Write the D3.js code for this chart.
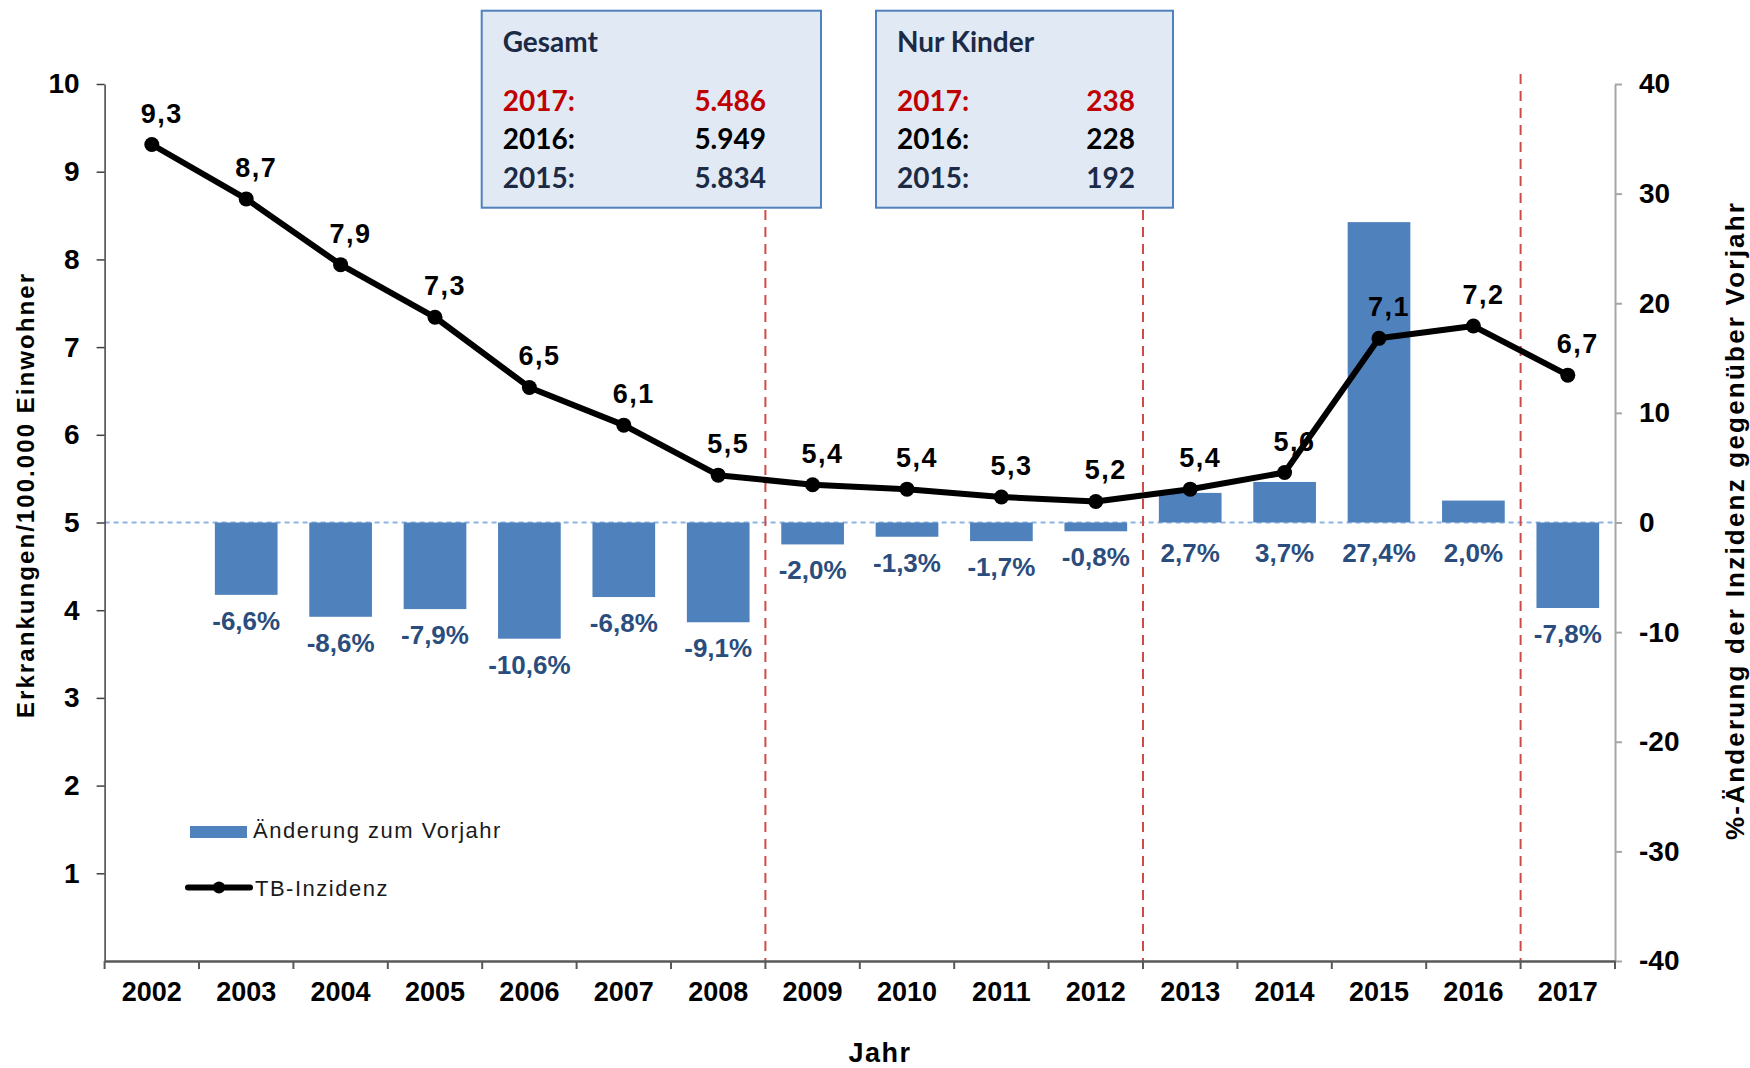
<!DOCTYPE html>
<html>
<head>
<meta charset="utf-8">
<script src="https://cdn.jsdelivr.net/npm/d3@7"></script>
<style>
  html, body { margin: 0; padding: 0; background: #ffffff; }
  svg { display: block; }
</style>
</head>
<body>
<svg id="chart" width="1750" height="1068"></svg>
<script>
// ---------- data ----------
const years = ["2002","2003","2004","2005","2006","2007","2008","2009","2010","2011","2012","2013","2014","2015","2016","2017"];
const incidence = [9.31, 8.69, 7.94, 7.34, 6.54, 6.11, 5.54, 5.43, 5.38, 5.29, 5.24, 5.38, 5.57, 7.10, 7.24, 6.68];
const changePct = [null, -6.6, -8.6, -7.9, -10.6, -6.8, -9.1, -2.0, -1.3, -1.7, -0.8, 2.7, 3.7, 27.4, 2.0, -7.8];
const leftTicks = [1,2,3,4,5,6,7,8,9,10];
const rightTicks = [-40,-30,-20,-10,0,10,20,30,40];
const dividerYears = ["2009","2013","2017"];
const boxTitles = ["Gesamt","Nur Kinder"];
const boxYears = ["2017:","2016:","2015:"];
const gesamtValues = ["5.486","5.949","5.834"];
const kinderValues = ["238","228","192"];
const legendLabels = ["Änderung zum Vorjahr","TB-Inzidenz"];
const leftTitle = "Erkrankungen/100.000 Einwohner";
const rightTitle = "%-Änderung der Inzidenz gegenüber Vorjahr";
const xTitle = "Jahr";

// ---------- layout ----------
const svg = d3.select("#chart");
const plotL = 104.6, plotR = 1615, plotT = 84, plotB = 961;
const FONT = "'Liberation Sans', Arial, sans-serif";
const BOXFONT = "Lato, 'Open Sans', sans-serif";
const barColor = "#4F81BD";
const labelBlue = "#2A4D7E";
const fmt1 = d => d3.format(".1f")(d).replace(".", ",").replace("\u2212", "-");

const x0 = d3.scaleBand().domain(years).range([plotL, plotR]).padding(0);
const x = d3.scaleBand().domain(years).range([plotL, plotR]).paddingInner(0.336).paddingOuter(0.168);
const yL = d3.scaleLinear().domain([0, 10]).range([plotB, plotT]);
const yR = d3.scaleLinear().domain([-40, 40]).range([plotB, plotT]);
const cx = d => x0(d) + x0.bandwidth() / 2;

// zero reference line
svg.append("line")
  .attr("x1", plotL).attr("x2", plotR)
  .attr("y1", yR(0)).attr("y2", yR(0))
  .attr("stroke", "#8DB4E2").attr("stroke-width", 2).attr("stroke-dasharray", "5,4");

// red dashed dividers
svg.selectAll(".divider").data(dividerYears).join("line")
  .attr("class", "divider")
  .attr("x1", d => x0(d)).attr("x2", d => x0(d))
  .attr("y1", plotT - 10).attr("y2", plotB)
  .attr("stroke", "#D04A48").attr("stroke-width", 2).attr("stroke-dasharray", "10,7");

// bars
const barData = years.map((y, i) => ({ year: y, v: changePct[i] })).filter(d => d.v !== null);
svg.selectAll(".bar").data(barData).join("rect")
  .attr("class", "bar")
  .attr("x", d => x(d.year))
  .attr("width", x.bandwidth())
  .attr("y", d => Math.min(yR(d.v), yR(0)))
  .attr("height", d => Math.abs(yR(d.v) - yR(0)))
  .attr("fill", barColor);

// bar labels
svg.selectAll(".barlabel").data(barData).join("text")
  .attr("class", "barlabel")
  .attr("x", d => cx(d.year))
  .attr("y", d => d.v < 0 ? yR(d.v) + 35 : yR(0) + 39)
  .attr("text-anchor", "middle")
  .attr("font-family", FONT).attr("font-weight", "bold").attr("font-size", 26)
  .attr("fill", labelBlue)
  .text(d => fmt1(d.v) + "%");

// incidence line
const lineData = years.map((y, i) => ({ year: y, v: incidence[i] }));
svg.append("path")
  .datum(lineData)
  .attr("fill", "none").attr("stroke", "#000").attr("stroke-width", 6)
  .attr("stroke-linejoin", "round").attr("stroke-linecap", "round")
  .attr("d", d3.line().x(d => cx(d.year)).y(d => yL(d.v)));
svg.selectAll(".dot").data(lineData).join("circle")
  .attr("class", "dot")
  .attr("cx", d => cx(d.year)).attr("cy", d => yL(d.v)).attr("r", 7.5)
  .attr("fill", "#000");
svg.selectAll(".linelabel").data(lineData).join("text")
  .attr("class", "linelabel")
  .attr("x", d => cx(d.year) + 10)
  .attr("y", d => yL(d.v) - 22)
  .attr("text-anchor", "middle")
  .attr("font-family", FONT).attr("font-weight", "bold").attr("font-size", 27)
  .attr("letter-spacing", 1.5)
  .attr("fill", "#000")
  .text(d => fmt1(d.v));

// left axis
const axL = svg.append("g").attr("transform", `translate(${plotL},0)`)
  .call(d3.axisLeft(yL).tickValues(leftTicks).tickSize(8).tickSizeOuter(0).tickPadding(17).tickFormat(d => String(d)));
axL.select(".domain").attr("stroke", "#404040").attr("stroke-width", 1.5);
axL.selectAll(".tick line").attr("stroke", "#404040").attr("stroke-width", 1.5);
axL.selectAll(".tick text").attr("font-family", FONT).attr("font-weight", "bold").attr("font-size", 28).attr("fill", "#000");

// right axis
const axR = svg.append("g").attr("transform", `translate(${plotR},0)`)
  .call(d3.axisRight(yR).tickValues(rightTicks).tickSize(7).tickSizeOuter(0).tickPadding(17).tickFormat(d => String(d)));
axR.select(".domain").attr("stroke", "#A6A6A6").attr("stroke-width", 2);
axR.selectAll(".tick line").attr("stroke", "#A6A6A6").attr("stroke-width", 2);
axR.selectAll(".tick text").attr("font-family", FONT).attr("font-weight", "bold").attr("font-size", 28).attr("fill", "#000");

// bottom axis
const axB = svg.append("g").attr("transform", `translate(0,${plotB})`)
  .call(d3.axisBottom(x0).tickSize(0).tickPadding(40).tickSizeOuter(0));
axB.select(".domain").attr("stroke", "#595959").attr("stroke-width", 2.5);
axB.selectAll(".tick text").attr("font-family", FONT).attr("font-weight", "bold").attr("font-size", 27).attr("fill", "#000").attr("dy", 0);
const boundaries = years.map(d => x0(d)).concat([plotR]);
axB.selectAll(".btick").data(boundaries).join("line")
  .attr("class", "btick")
  .attr("x1", d => d).attr("x2", d => d).attr("y1", 0).attr("y2", 8)
  .attr("stroke", "#595959").attr("stroke-width", 2);

// axis titles (start-anchored, explicit length)
svg.append("text")
  .attr("transform", `translate(34,718) rotate(-90)`)
  .attr("text-anchor", "start")
  .attr("font-family", FONT).attr("font-weight", "bold").attr("font-size", 24)
  .attr("textLength", 444).attr("lengthAdjust", "spacing")
  .attr("fill", "#000")
  .text(leftTitle);
svg.append("text")
  .attr("transform", `translate(1744,840) rotate(-90)`)
  .attr("text-anchor", "start")
  .attr("font-family", FONT).attr("font-weight", "bold").attr("font-size", 26)
  .attr("textLength", 637).attr("lengthAdjust", "spacing")
  .attr("fill", "#000")
  .text(rightTitle);
svg.append("text")
  .attr("x", 880).attr("y", 1062)
  .attr("text-anchor", "middle")
  .attr("font-family", FONT).attr("font-weight", "bold").attr("font-size", 27)
  .attr("letter-spacing", 1.5)
  .attr("fill", "#000")
  .text(xTitle);

// legend
const lg = svg.append("g");
lg.append("rect").attr("x", 190).attr("y", 826).attr("width", 57).attr("height", 12).attr("fill", barColor);
lg.append("text").attr("x", 253).attr("y", 838)
  .attr("font-family", FONT).attr("font-size", 22).attr("letter-spacing", 1.5).attr("fill", "#1a1a1a")
  .text(legendLabels[0]);
lg.append("line").attr("x1", 188).attr("x2", 250).attr("y1", 887.5).attr("y2", 887.5)
  .attr("stroke", "#000").attr("stroke-width", 6).attr("stroke-linecap", "round");
lg.append("circle").attr("cx", 219).attr("cy", 887.5).attr("r", 6).attr("fill", "#000");
lg.append("text").attr("x", 255).attr("y", 896)
  .attr("font-family", FONT).attr("font-size", 22).attr("letter-spacing", 1.5).attr("fill", "#1a1a1a")
  .text(legendLabels[1]);

// info boxes
const boxX = [481.7, 876];
const boxW = [339.3, 297];
const valRight = [766, 1135];
const boxVals = [gesamtValues, kinderValues];
const rowColors = ["#C00000", "#000000", "#1C2A45"];
const rowY = [111, 149.3, 187.7];
boxTitles.forEach((t, bi) => {
  const g = svg.append("g");
  g.append("rect").attr("x", boxX[bi]).attr("y", 10.7).attr("width", boxW[bi]).attr("height", 197)
    .attr("fill", "#E1EAF4").attr("stroke", "#4F81BD").attr("stroke-width", 2);
  g.append("text").attr("x", boxX[bi] + 21).attr("y", 51.7)
    .attr("font-family", BOXFONT).attr("font-weight", "bold").attr("font-size", 28).attr("fill", "#1C2A45")
    .text(t);
  boxYears.forEach((yr, ri) => {
    g.append("text").attr("x", boxX[bi] + 21).attr("y", rowY[ri])
      .attr("font-family", BOXFONT).attr("font-weight", "bold").attr("font-size", 28).attr("fill", rowColors[ri])
      .text(yr);
    g.append("text").attr("x", valRight[bi]).attr("y", rowY[ri]).attr("text-anchor", "end")
      .attr("font-family", BOXFONT).attr("font-weight", "bold").attr("font-size", 28).attr("fill", rowColors[ri])
      .text(boxVals[bi][ri]);
  });
});
</script>
</body>
</html>
